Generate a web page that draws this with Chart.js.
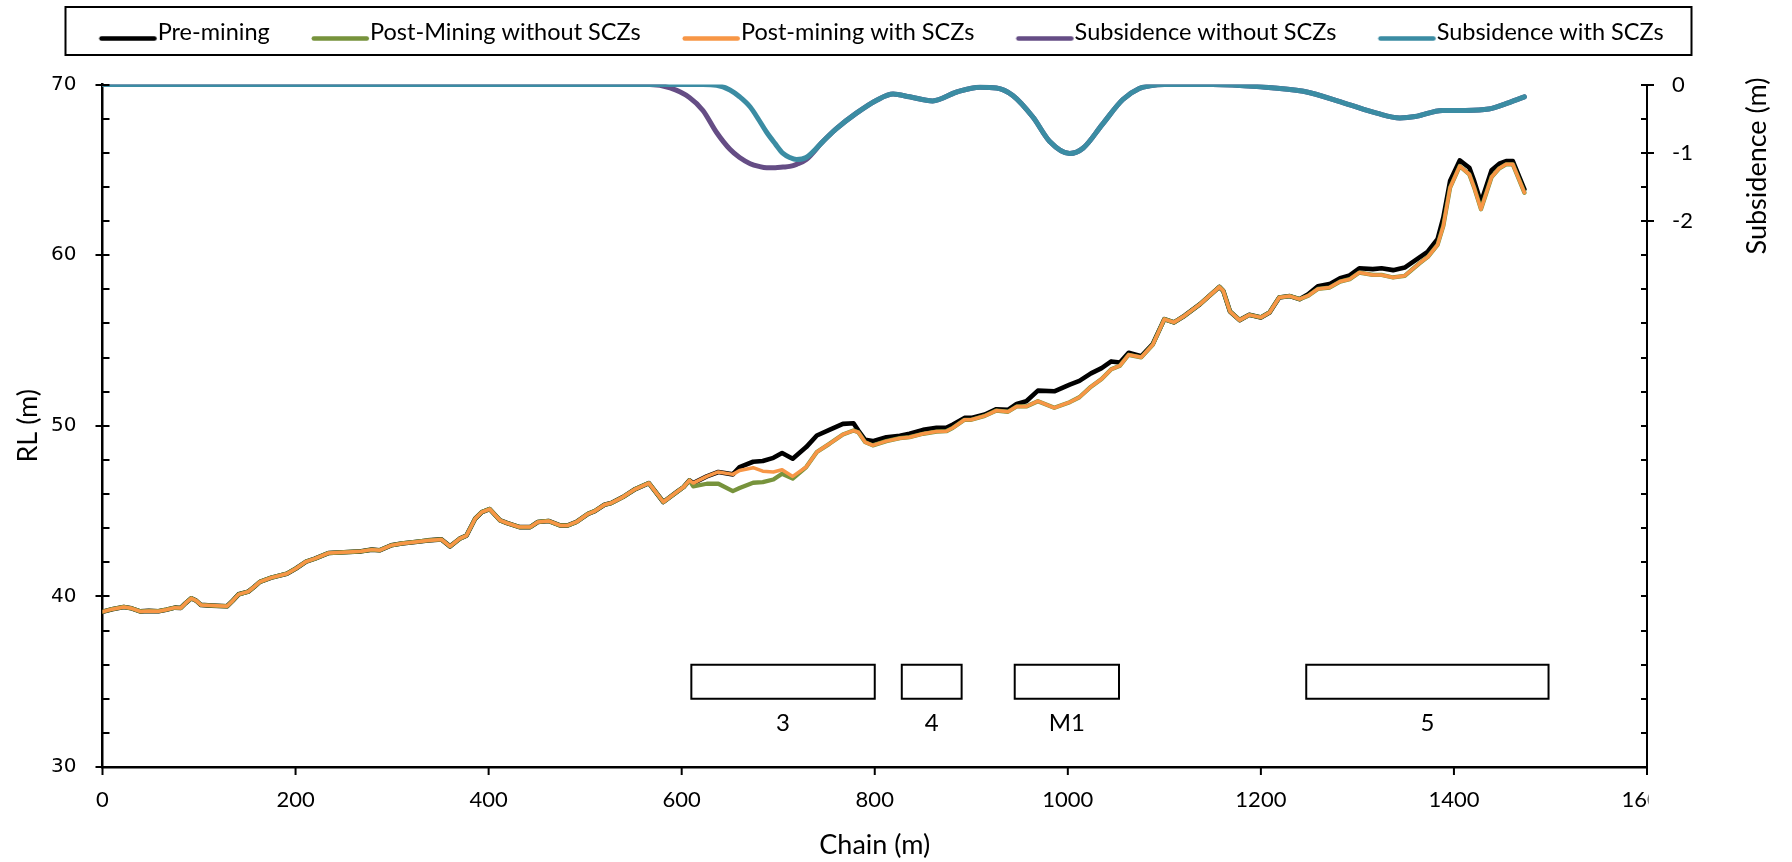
<!DOCTYPE html>
<html><head><meta charset="utf-8">
<script src="https://cdn.jsdelivr.net/npm/chart.js@4.4.1/dist/chart.umd.min.js"></script>
<style>html,body{margin:0;padding:0;background:#fff;}canvas{display:block;}</style>
</head><body>
<canvas id="c" width="1792" height="862"></canvas>
<script>
// ---------------- DATA ----------------
const seriesLabels = ['Pre-mining','Post-Mining without SCZs','Post-mining with SCZs','Subsidence without SCZs','Subsidence with SCZs'];

// chainage (m) of the surveyed profile points
const chain = [
  0,10,22,30,39,48,58,66,75,81,
  86,92,97,102,113,129,135,141,151,157,
  163,175,191,200,211,220,234,255,268,279,
  287,299,310,324,337,351,360,370,377,386,
  393,401,412,419,432,443,451,462,474,482,
  491,503,510,520,527,539,552,566,581,595,
  602,608,612,626,638,653,660,674,684,695,
  704,715,729,740,753,767,778,783,790,798,
  812,826,836,850,864,874,881,893,900,914,
  926,938,947,957,969,986,1002,1012,1024,1035,
  1045,1054,1063,1076,1088,1100,1110,1121,1137,1157,
  1161,1168,1178,1188,1200,1209,1219,1230,1240,1249,
  1259,1271,1282,1292,1302,1316,1325,1337,1349,1364,
  1373,1383,1389,1396,1406,1416,1421,1428,1439,1447,
  1454,1461,1473
];
// RL (m) pre-mining
const rlPre = [
  39.10,39.25,39.38,39.30,39.12,39.15,39.13,39.22,39.34,39.32,
  39.60,39.89,39.75,39.50,39.46,39.42,39.75,40.12,40.28,40.55,
  40.85,41.10,41.33,41.62,42.04,42.21,42.54,42.60,42.64,42.74,
  42.70,42.99,43.10,43.19,43.28,43.34,42.93,43.38,43.56,44.55,
  44.94,45.12,44.45,44.30,44.06,44.06,44.36,44.42,44.16,44.16,
  44.36,44.84,45.00,45.37,45.47,45.82,46.29,46.64,45.53,46.12,
  46.41,46.80,46.64,47.03,47.29,47.15,47.58,47.89,47.93,48.12,
  48.40,48.07,48.75,49.43,49.76,50.11,50.15,49.72,49.18,49.10,
  49.33,49.41,49.53,49.76,49.88,49.88,50.07,50.46,50.46,50.66,
  50.97,50.93,51.28,51.44,52.06,52.02,52.41,52.63,53.07,53.38,
  53.77,53.71,54.28,54.07,54.79,56.25,56.06,56.45,57.13,58.14,
  57.91,56.70,56.19,56.50,56.35,56.64,57.52,57.60,57.42,57.71,
  58.18,58.30,58.65,58.81,59.23,59.18,59.23,59.12,59.27,59.86,
  60.21,60.93,62.20,64.34,65.55,65.12,64.34,63.08,64.97,65.36,
  65.51,65.51,63.86
];
// RL (m) post-mining without SCZs
const rlPostWithout = [
  39.10,39.25,39.38,39.30,39.12,39.15,39.13,39.22,39.34,39.32,
  39.60,39.89,39.75,39.50,39.46,39.42,39.75,40.12,40.28,40.55,
  40.85,41.10,41.33,41.62,42.04,42.21,42.54,42.60,42.64,42.74,
  42.70,42.99,43.10,43.19,43.28,43.34,42.93,43.38,43.56,44.55,
  44.94,45.12,44.45,44.30,44.06,44.06,44.36,44.42,44.16,44.16,
  44.36,44.84,45.00,45.37,45.47,45.82,46.29,46.64,45.53,46.12,
  46.41,46.80,46.45,46.60,46.60,46.17,46.35,46.66,46.70,46.85,
  47.19,46.90,47.58,48.46,48.94,49.49,49.72,49.62,49.04,48.85,
  49.10,49.27,49.33,49.53,49.66,49.68,49.88,50.35,50.35,50.58,
  50.89,50.82,51.13,51.13,51.44,51.05,51.38,51.67,52.29,52.74,
  53.31,53.52,54.16,54.01,54.75,56.25,56.06,56.45,57.13,58.14,
  57.91,56.70,56.19,56.50,56.35,56.64,57.52,57.60,57.42,57.62,
  58.02,58.10,58.45,58.59,58.98,58.84,58.84,58.69,58.79,59.51,
  59.90,60.60,61.71,63.95,65.22,64.73,63.95,62.69,64.58,65.09,
  65.32,65.32,63.66
];
// RL (m) post-mining with SCZs
const rlPostWith = [
  39.10,39.25,39.38,39.30,39.12,39.15,39.13,39.22,39.34,39.32,
  39.60,39.89,39.75,39.50,39.46,39.42,39.75,40.12,40.28,40.55,
  40.85,41.10,41.33,41.62,42.04,42.21,42.54,42.60,42.64,42.74,
  42.70,42.99,43.10,43.19,43.28,43.34,42.93,43.38,43.56,44.55,
  44.94,45.12,44.45,44.30,44.06,44.06,44.36,44.42,44.16,44.16,
  44.36,44.84,45.00,45.37,45.47,45.82,46.29,46.64,45.53,46.12,
  46.41,46.80,46.64,47.03,47.29,47.15,47.38,47.54,47.34,47.29,
  47.42,47.03,47.58,48.46,48.94,49.49,49.72,49.62,49.04,48.85,
  49.10,49.27,49.33,49.53,49.66,49.68,49.88,50.35,50.35,50.58,
  50.89,50.82,51.13,51.13,51.44,51.05,51.38,51.67,52.29,52.74,
  53.31,53.52,54.16,54.01,54.75,56.25,56.06,56.45,57.13,58.14,
  57.91,56.70,56.19,56.50,56.35,56.64,57.52,57.60,57.42,57.62,
  58.02,58.10,58.45,58.59,58.98,58.84,58.84,58.69,58.79,59.51,
  59.90,60.60,61.71,63.95,65.22,64.73,63.95,62.69,64.58,65.09,
  65.32,65.32,63.66
];

// subsidence profiles (m)
const subChain = [
  0,100,200,300,400,500,567,588,608,622,
  636,650,660,671,680,688,697,705,712,719,
  729,746,760,781,802,819,836,860,885,909,
  926,943,964,981,1002,1016,1036,1057,1074,1085,
  1100,1150,1196,1244,1288,1320,1344,1360,1388,1412,
  1436,1452,1473
];
const subWithout = [
  0,0,0,0,0,0,0,-0.05,-0.19,-0.38,
  -0.70,-0.95,-1.07,-1.16,-1.20,-1.22,-1.22,-1.21,-1.20,-1.17,
  -1.10,-0.84,-0.65,-0.42,-0.23,-0.14,-0.18,-0.24,-0.11,-0.04,
  -0.05,-0.16,-0.48,-0.83,-1.01,-0.93,-0.58,-0.22,-0.06,-0.02,
  0,0,-0.03,-0.10,-0.28,-0.42,-0.49,-0.47,-0.38,-0.38,
  -0.36,-0.29,-0.18
];
const subWith = [
  0,0,0,0,0,0,0,0,0,0,
  -0.01,-0.08,-0.18,-0.33,-0.52,-0.70,-0.87,-1.01,-1.07,-1.10,
  -1.07,-0.84,-0.65,-0.42,-0.23,-0.14,-0.18,-0.24,-0.11,-0.04,
  -0.05,-0.16,-0.48,-0.83,-1.01,-0.93,-0.58,-0.22,-0.06,-0.02,
  0,0,-0.03,-0.10,-0.28,-0.42,-0.49,-0.47,-0.38,-0.38,
  -0.36,-0.29,-0.18
];

// longwall panels (chain extents, RL band) and their names
const panelNames = ['3','4','M1','5'];
const panelStart = [610, 828, 945, 1247];
const panelEnd   = [800, 890, 1053, 1498];
const panelLow = 34, panelHigh = 36, panelNameLevel = 32.55;

// axis ticks
const xTicks = {min:0, max:1600, step:200};
const rlTicks = {min:30, max:70, step:2, labelEvery:10};
const subTicks = {min:-10, max:0, step:0.5};
const subTickLabels = [0, -1, -2];
const axisTitles = {x:'Chain (m)', y:'RL (m)', y1:'Subsidence (m)'};

// ---------------- CHART ----------------
const FONT = 'Lato, "Open Sans", sans-serif';
Chart.defaults.font.family = FONT;
Chart.defaults.color = '#000';

const colors = ['#000000', '#77933C', '#F79646', '#654D85', '#3B8CA3'];
const widths = [4.6, 4.3, 3.5, 5, 5];
const LEGEND_FONT = 23.5;

const pts = (xs, ys) => xs.map((x, i) => ({x: x, y: ys[i]}));

const LEG = {pad:42, boxW:46.5, rowMid:32, center:881.5, boxTop:7, boxBottom:55, left:34, right:28};

function sample(color, lw) {
  const c = document.createElement('canvas');
  c.width = 120; c.height = 26;
  const g = c.getContext('2d');
  const off = 60 - LEG.boxW / 2;
  g.strokeStyle = color; g.lineWidth = lw; g.lineCap = 'round';
  g.beginPath(); g.moveTo(off + 2, 19.5); g.lineTo(off + 55, 19.5); g.stroke();
  return c;
}

const lineBase = {pointRadius:0, pointHoverRadius:0, fill:false, tension:0, borderJoinStyle:'round', borderCapStyle:'round'};

const datasets = [
  Object.assign({}, lineBase, {label:seriesLabels[0], data:pts(chain, rlPre), borderColor:colors[0], backgroundColor:colors[0], borderWidth:widths[0], yAxisID:'y', order:5}),
  Object.assign({}, lineBase, {label:seriesLabels[1], data:pts(chain, rlPostWithout), borderColor:colors[1], backgroundColor:colors[1], borderWidth:widths[1], yAxisID:'y', order:4}),
  Object.assign({}, lineBase, {label:seriesLabels[2], data:pts(chain, rlPostWith), borderColor:colors[2], backgroundColor:colors[2], borderWidth:widths[2], yAxisID:'y', order:3}),
  Object.assign({}, lineBase, {label:seriesLabels[3], data:pts(subChain, subWithout), borderColor:colors[3], backgroundColor:colors[3], borderWidth:widths[3], yAxisID:'y1', order:2, cubicInterpolationMode:'monotone'}),
  Object.assign({}, lineBase, {label:seriesLabels[4], data:pts(subChain, subWith), borderColor:colors[4], backgroundColor:colors[4], borderWidth:widths[4], yAxisID:'y1', order:1, cubicInterpolationMode:'monotone'})
];
panelNames.forEach((n, i) => {
  const s = panelStart[i], e = panelEnd[i];
  datasets.push(Object.assign({}, lineBase, {
    label:'Panel ' + n,
    data:[{x:s,y:panelLow},{x:s,y:panelHigh},{x:e,y:panelHigh},{x:e,y:panelLow},{x:s,y:panelLow}],
    borderColor:'#000', backgroundColor:'#fff', borderWidth:2, borderJoinStyle:'miter', borderCapStyle:'square',
    yAxisID:'y', order:6
  }));
});

const extras = {
  id:'extras',
  afterLayout(chart) {
    const lg = chart.legend; if (!lg) return;
    const shift = LEG.center - (lg.left + lg.right) / 2;
    lg.left += shift; lg.right += shift;
    lg.top = LEG.rowMid - LEGEND_FONT / 2 - LEG.pad;
  },
  afterDraw(chart) {
    const {ctx, chartArea:a, scales} = chart;
    ctx.save();
    // tick marks
    ctx.strokeStyle = '#000'; ctx.lineWidth = 2; ctx.lineCap = 'butt';
    const L = scales.y, X = scales.x, R = scales.y1;
    L.ticks.forEach(t => {
      const y = Math.round(L.getPixelForValue(t.value));
      const major = t.value % rlTicks.labelEvery === 0;
      ctx.beginPath(); ctx.moveTo(a.left + (major ? -7 : 0), y); ctx.lineTo(a.left + 7, y); ctx.stroke();
    });
    X.ticks.forEach(t => {
      const x = X.getPixelForValue(t.value);
      ctx.beginPath(); ctx.moveTo(x, a.bottom); ctx.lineTo(x, a.bottom + 8); ctx.stroke();
    });
    R.ticks.forEach(t => {
      const y = Math.round(R.getPixelForValue(t.value));
      const major = subTickLabels.includes(t.value);
      ctx.beginPath(); ctx.moveTo(a.right - 6, y); ctx.lineTo(a.right + (major ? 7 : 0), y); ctx.stroke();
    });
    // cut the last x label at the right axis, as in the source figure
    ctx.fillStyle = '#fff';
    ctx.fillRect(a.right + 1.5, a.bottom + 12, 70, 45);
    // panel names
    ctx.fillStyle = '#000'; ctx.font = '24px ' + FONT; ctx.textAlign = 'center'; ctx.textBaseline = 'middle';
    panelNames.forEach((n, i) => {
      ctx.fillText(n, X.getPixelForValue((panelStart[i] + panelEnd[i]) / 2), L.getPixelForValue(panelNameLevel));
    });
    // right axis title (reads bottom-to-top)
    ctx.save();
    ctx.translate(1757, 166); ctx.rotate(-Math.PI / 2);
    ctx.font = '27px ' + FONT; ctx.fillText(axisTitles.y1, 0, 0);
    ctx.restore();
    // legend frame
    const hb = chart.legend.legendHitBoxes;
    if (hb && hb.length) {
      const l = hb[0].left - LEG.left;
      const last = hb[hb.length - 1];
      const r = last.left + last.width + LEG.right;
      ctx.lineWidth = 2; ctx.strokeStyle = '#000';
      ctx.strokeRect(Math.round(l) + 0.5, LEG.boxTop, Math.round(r - l), LEG.boxBottom - LEG.boxTop);
    }
    ctx.restore();
  }
};

new Chart(document.getElementById('c'), {
  type:'line',
  data:{datasets:datasets},
  options:{
    responsive:false, animation:false, devicePixelRatio:1,
    layout:{padding:{top:9, left:0, right:0, bottom:0}},
    interaction:{mode:null},
    plugins:{
      tooltip:{enabled:false},
      legend:{
        display:true, position:'top',
        labels:{
          usePointStyle:true, pointStyleWidth:LEG.boxW, padding:LEG.pad,
          font:{family:FONT, size:LEGEND_FONT}, color:'#000',
          filter:(item) => item.datasetIndex < 5,
          generateLabels:(chart) => chart.data.datasets.slice(0, 5).map((ds, i) => ({
            text: ds.label, fillStyle: ds.borderColor, strokeStyle: ds.borderColor, lineWidth: 0,
            pointStyle: sample(ds.borderColor, 4.5), datasetIndex: i, hidden: false, fontColor: '#000'
          }))
        }
      }
    },
    scales:{
      x:{
        type:'linear', position:'bottom', min:xTicks.min, max:xTicks.max,
        afterFit:(s) => { s.height = 95; },
        ticks:{stepSize:xTicks.step, autoSkip:false, maxRotation:0, padding:20, font:{family:FONT, size:22}, color:'#000', callback:(v) => String(v)},
        grid:{display:false, drawTicks:false},
        border:{display:true, color:'#000', width:2.5},
        title:{display:true, text:axisTitles.x, font:{family:FONT, size:27}, color:'#000', padding:{top:0, bottom:1}}
      },
      y:{
        type:'linear', position:'left', min:rlTicks.min, max:rlTicks.max,
        afterFit:(s) => { s.width = 102.5; },
        ticks:{stepSize:rlTicks.step, autoSkip:false, padding:26, font:{family:'"DejaVu Sans"', size:20}, color:'#000',
               callback:(v) => (v % rlTicks.labelEvery === 0 ? String(v) : '')},
        grid:{display:false, drawTicks:false},
        border:{display:true, color:'#000', width:2.5},
        title:{display:true, text:axisTitles.y, font:{family:FONT, size:27}, color:'#000', padding:{top:12, bottom:0}}
      },
      y1:{
        type:'linear', position:'right', min:subTicks.min, max:subTicks.max,
        afterFit:(s) => { s.width = 145; },
        ticks:{stepSize:subTicks.step, autoSkip:false, padding:25, font:{family:FONT, size:22}, color:'#000',
               callback:(v) => (subTickLabels.includes(v) ? String(v) : '')},
        grid:{display:false, drawTicks:false},
        border:{display:true, color:'#000', width:2},
        title:{display:false}
      }
    }
  },
  plugins:[extras]
});
</script>
</body></html>
